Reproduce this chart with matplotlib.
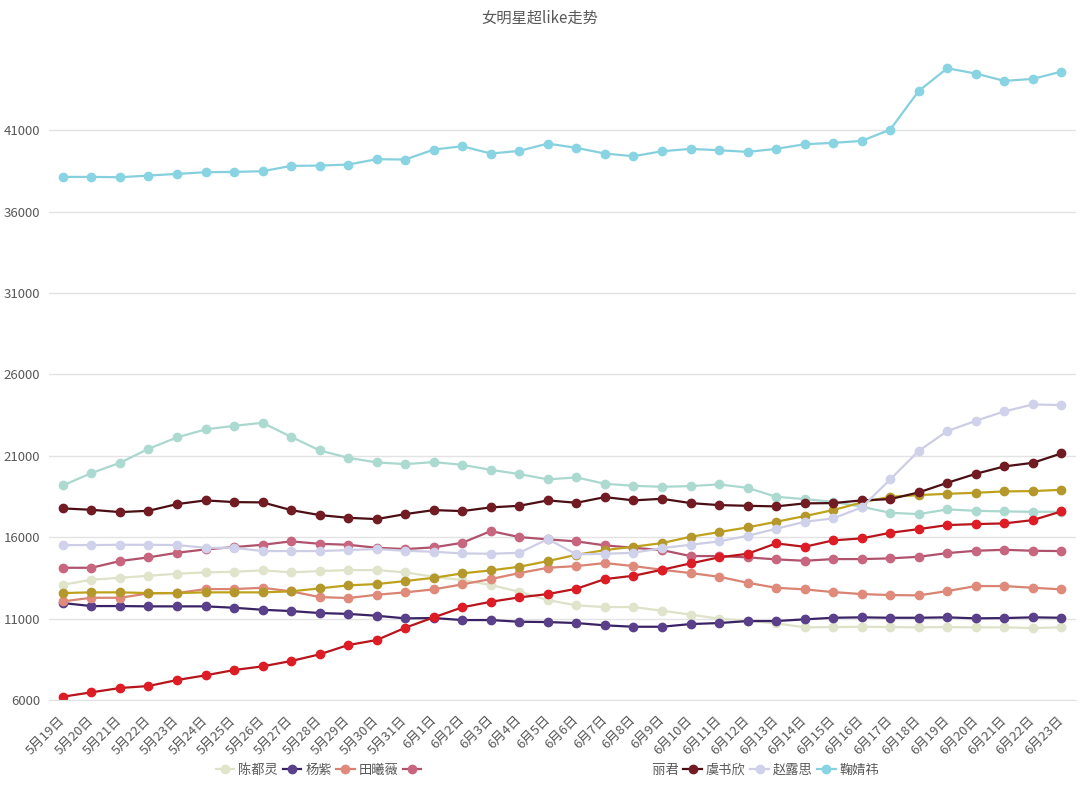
import matplotlib
matplotlib.use("Agg")
import matplotlib.pyplot as plt
from matplotlib.patches import Rectangle

plt.rcParams['font.family'] = ['Noto Sans CJK SC', 'DejaVu Sans']

# 日期
dates = ['5月19日', '5月20日', '5月21日', '5月22日', '5月23日', '5月24日', '5月25日',
         '5月26日', '5月27日', '5月28日', '5月29日', '5月30日', '5月31日', '6月1日',
         '6月2日', '6月3日', '6月4日', '6月5日', '6月6日', '6月7日', '6月8日', '6月9日',
         '6月10日', '6月11日', '6月12日', '6月13日', '6月14日', '6月15日', '6月16日',
         '6月17日', '6月18日', '6月19日', '6月20日', '6月21日', '6月22日', '6月23日']

chen = [13079, 13386, 13509, 13632, 13755, 13841, 13878, 13964, 13841, 13921, 13982,
        13982, 13841, 13571, 13368, 13061, 12650, 12140, 11815, 11710, 11710, 11483, 11250,
        10992, 10869, 10709, 10464, 10480, 10500, 10480, 10464, 10480, 10464, 10464, 10421, 10464]
yang = [11956, 11772, 11772, 11753, 11753, 11753, 11667, 11544, 11465, 11342, 11290,
        11176, 11016, 11035, 10912, 10912, 10808, 10789, 10728, 10587, 10501, 10501, 10666,
        10728, 10851, 10851, 10955, 11053, 11078, 11053, 11053, 11078, 11016, 11035, 11078, 11053]
tian = [12060, 12281, 12281, 12551, 12570, 12815, 12815, 12895, 12674, 12324, 12263,
        12465, 12613, 12797, 13104, 13429, 13798, 14123, 14228, 14412, 14228, 14000, 13798,
        13571, 13202, 12895, 12797, 12631, 12508, 12447, 12428, 12693, 13000, 13000, 12895, 12797]
pink = [14123, 14123, 14535, 14762, 15044, 15253, 15394, 15536, 15744, 15597, 15536,
        15351, 15271, 15376, 15658, 16377, 16008, 15867, 15744, 15499, 15351, 15210, 14842,
        14842, 14762, 14639, 14553, 14657, 14657, 14700, 14799, 15026, 15167, 15228, 15167, 15149]
mint = [19183, 19938, 20570, 21430, 22130, 22621, 22842, 23026, 22167, 21331, 20877,
        20595, 20490, 20613, 20447, 20140, 19876, 19551, 19674, 19281, 19158, 19097, 19140,
        19244, 19035, 18483, 18341, 18176, 17869, 17500, 17420, 17709, 17623, 17586, 17562, 17562]
red = [6203, 6473, 6737, 6860, 7228, 7517, 7842, 8069, 8395, 8806, 9377,
       9684, 10439, 11078, 11692, 12036, 12306, 12508, 12834, 13429, 13632, 14000, 14393,
       14762, 14983, 15621, 15413, 15806, 15928, 16272, 16499, 16745, 16806, 16849, 17052, 17586]
gold = [12570, 12613, 12613, 12570, 12570, 12613, 12613, 12613, 12674, 12858, 13043,
        13122, 13307, 13509, 13779, 13964, 14185, 14535, 14921, 15210, 15413, 15640, 16027,
        16315, 16604, 16948, 17298, 17666, 18139, 18483, 18587, 18667, 18728, 18814, 18833, 18912]
yu = [17770, 17684, 17543, 17623, 18034, 18262, 18157, 18139, 17666, 17359, 17193,
      17113, 17420, 17666, 17605, 17832, 17930, 18262, 18114, 18464, 18262, 18360, 18096,
      17973, 17930, 17893, 18077, 18096, 18262, 18341, 18753, 19342, 19895, 20349, 20570, 21147]
zhao = [15517, 15517, 15536, 15536, 15517, 15351, 15351, 15149, 15149, 15149, 15210,
        15271, 15167, 15106, 15007, 14983, 15044, 15885, 14946, 14983, 15044, 15333, 15536,
        15744, 16088, 16518, 16948, 17156, 17832, 19551, 21307, 22517, 23149, 23726, 24156, 24113]
ju = [38131, 38131, 38110, 38213, 38315, 38418, 38438, 38480, 38807, 38827, 38889,
      39216, 39196, 39810, 40015, 39565, 39728, 40179, 39913, 39565, 39401, 39708, 39851,
      39769, 39667, 39851, 40138, 40220, 40342, 41039, 43413, 44805, 44477, 44027, 44150, 44600]

# 图例里被水印遮住的名字读不出来，用全角空格占位
names = ['陈都灵', '杨紫', '田曦薇', '\u3000\u3000\u3000\u3000', '\u3000\u3000\u3000',
         '\u3000\u3000\u3000', '\u3000丽君', '虞书欣', '赵露思', '鞠婧祎']
yticks = [6000, 11000, 16000, 21000, 26000, 31000, 36000, 41000]

series = [chen, yang, tian, pink, mint, red, gold, yu, zhao, ju]
line_colors = ['#dde2c8', '#3a2364', '#d98372', '#b0526c', '#aad8cf',
               '#b8141b', '#bfa21c', '#4a0e13', '#cdcee6', '#86d0de']
marker_colors = ['#dfe4cb', '#5a3f8b', '#e08a7b', '#c8657f', '#acdad1',
                 '#de1c25', '#b4982c', '#731b22', '#d0d1ea', '#88d4e3']

fig = plt.figure(figsize=(10.8, 8.05), dpi=100)
ax = fig.add_axes([0.045, 0.1304, 0.951, 0.809])

x = list(range(len(dates)))
handles = []
for vals, lc, mc, name in zip(series, line_colors, marker_colors, names):
    h, = ax.plot(x, vals, color=lc, lw=1.6, marker='o', markersize=6,
                 markerfacecolor=mc, markeredgecolor=mc, label=name)
    handles.append(h)

ax.set_xlim(-0.5, len(dates) - 0.5)
ax.set_ylim(6000, 46000)
ax.set_yticks(yticks)
ax.set_yticklabels([str(v) for v in yticks], fontsize=9.5, color='#595959')
ax.set_xticks(x)
ax.set_xticklabels(dates, rotation=45, ha='right', va='center', rotation_mode='anchor',
                   fontsize=9.5, color='#595959')
ax.tick_params(axis='both', length=0)
ax.tick_params(axis='x', pad=13)
ax.tick_params(axis='y', pad=6)
ax.grid(axis='y', color='#e3e3e3', lw=1)
ax.set_axisbelow(True)
for s in ['top', 'right', 'left']:
    ax.spines[s].set_visible(False)
ax.spines['bottom'].set_color('#e3e3e3')

fig.text(0.5, 0.978, '女明星超like走势', ha='center', va='center', fontsize=11, color='#595959')

leg = fig.legend(handles=handles, loc='center', bbox_to_anchor=(0.507, 0.043), ncol=10,
                 frameon=False, fontsize=9.5, handlelength=1.4, handletextpad=0.3,
                 columnspacing=0.35, labelcolor='#595959')

# 原图中间被水印遮挡
fig.patches.append(Rectangle((438 / 1080, 1 - 790 / 805), 212 / 1080, 33 / 805,
                             transform=fig.transFigure, facecolor='white',
                             edgecolor='none', zorder=10))

fig.savefig('out.png', dpi=100)
